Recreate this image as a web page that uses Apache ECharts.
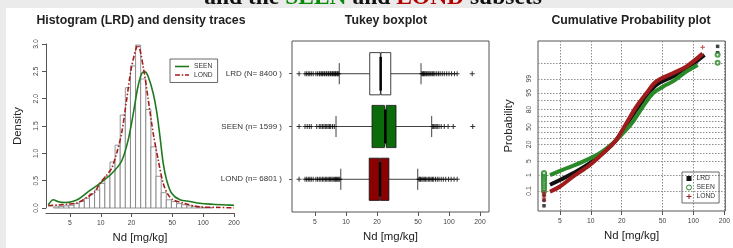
<!DOCTYPE html>
<html>
<head>
<meta charset="utf-8">
<script src="https://cdn.jsdelivr.net/npm/echarts@6/dist/echarts.min.js"></script>
<style>
html, body { margin: 0; padding: 0; background: #ebebeb; }
#main { width: 733px; height: 248px; }
</style>
</head>
<body>
<div id="main"></div>
<script>
// x axis ticks used by all three panels (Nd, mg/kg, log scale)
var ndTicks = [5, 10, 20, 50, 100, 200];

// LRD histogram, bins in log10(Nd)
var histStartLog10 = 0.54;
var histBinLog10 = 0.05;
var histDensity = [0.02, 0.03, 0.04, 0.05, 0.08, 0.12, 0.18, 0.26, 0.33, 0.45, 0.58, 0.84, 1.15, 1.70, 2.20,
    2.60, 2.98, 2.36, 1.80, 1.12, 0.58, 0.28, 0.15, 0.12, 0.08, 0.06, 0.04, 0.03, 0.02, 0.01, 0.01];

// density traces [Nd, density]
var seenDensity = [[3.07, 0.055], [3.44, 0.15], [3.85, 0.115], [4.47, 0.10], [5.2, 0.115], [6.03, 0.16], [7.55, 0.30],
    [9.81, 0.45], [12.8, 0.63], [16.0, 0.86], [18.5, 1.24], [20.8, 1.73], [22.9, 2.19], [25.1, 2.46], [27.0, 2.49],
    [29.1, 2.40], [32.5, 2.10], [35.2, 1.76], [37.9, 1.30], [40.7, 0.82], [44.0, 0.51], [49.2, 0.27], [59.3, 0.15],
    [74.3, 0.12], [92.9, 0.086], [124, 0.068], [169, 0.055], [200, 0.05]];
var londDensity = [[3.07, 0.04], [3.85, 0.055], [4.81, 0.07], [6.03, 0.10], [7.55, 0.21], [8.78, 0.30], [9.81, 0.45],
    [11.4, 0.60], [12.8, 0.73], [14.3, 1.0], [16.0, 1.37], [17.9, 1.98], [20.0, 2.58], [23.1, 2.98], [26.0, 2.58],
    [29.1, 1.98], [32.5, 1.37], [36.4, 0.88], [40.7, 0.45], [45.6, 0.24], [51.0, 0.15], [63.8, 0.09], [92.9, 0.02],
    [146, 0.01], [200, 0]];

// Tukey boxplot, bottom to top
var boxGroups = ['LOND (n= 6801 )', 'SEEN (n= 1599 )', 'LRD (N= 8400 )'];
var boxN = [6801, 1599, 8400];
// lower whisker, Q1, median, Q3, upper whisker
var boxStats = [
    [8.9, 16.8, 21.4, 26.1, 49.7],
    [8.0, 17.9, 24.1, 30.6, 67.9],
    [8.6, 17.0, 21.7, 27.2, 53.5]
];
var boxOutliers = [
    [3.5, 4.0, 4.15, 4.3, 4.45, 4.6, 4.8, 5.1, 5.3, 5.5, 5.7, 5.9, 6.1, 6.3, 6.5, 6.7, 6.9, 7.1, 7.3, 7.5, 7.7, 7.9,
        8.1, 8.3, 8.5, 8.7, 51, 52, 53, 54.5, 56, 57.5, 59, 61, 63, 65, 67, 69, 71, 74, 77, 80, 84, 88, 93, 99, 105, 112, 120],
    [3.5, 4.0, 4.2, 4.4, 4.6, 5.2, 5.5, 5.7, 5.9, 6.1, 6.3, 6.5, 6.7, 6.9, 7.1, 7.4, 7.7,
        69.5, 71, 73, 75, 77, 80, 84, 90, 98, 110, 170],
    [3.5, 4.0, 4.15, 4.3, 4.45, 4.6, 4.8, 5.1, 5.3, 5.5, 5.6, 5.8, 5.9, 6.1, 6.2, 6.4, 6.5, 6.7, 6.8, 7.0, 7.1, 7.3,
        7.4, 7.6, 7.7, 7.9, 8.0, 8.2, 8.3, 8.5, 54.5, 55.5, 56.5, 57.5, 58.5, 60, 61, 62.5, 64, 65.5, 67, 69, 71, 73,
        76, 79, 82, 86, 90, 95, 100, 106, 113, 120, 168]
];

// cumulative probability plot
var probGrid = [0.1, 1, 5, 10, 20, 30, 40, 50, 60, 70, 80, 90, 95, 99, 99.9];
var probLabels = [0.1, 1, 5, 20, 50, 80, 95, 99];
var lrdCdf = [[4.0, 0.26], [5.0, 0.52], [6.7, 1.25], [9.8, 4.0], [14.2, 13.3], [17.7, 26.5], [22.2, 53.9], [27.8, 79.4],
    [34.8, 92.8], [43.5, 97.9], [63, 99.25], [78.7, 99.62], [106, 99.92], [128, 99.975]];
var seenCdf = [[4.0, 1.0], [5.8, 2.3], [8.4, 4.7], [12.2, 10.2], [16.4, 21.5], [20.6, 38], [25.7, 60], [32.2, 83.7],
    [40.3, 94.8], [50.4, 97.4], [63, 98.6], [85, 99.62], [110, 99.86]];
var londCdf = [[4.0, 0.088], [5.0, 0.2], [6.7, 0.82], [9.8, 3.3], [14.2, 13.3], [17.7, 26.5], [22.2, 57.1], [27.8, 83.7],
    [34.8, 94.8], [43.5, 98.6], [63, 99.52], [85, 99.82], [123, 99.98]];
// points at the detection limit and the top tail [Nd, %]
var lrdEnds = [[3.5, 0.007], [3.5, 0.02], [3.5, 0.05], [3.5, 0.1], [3.5, 0.2], [172, 99.983], [172, 99.995]];
var seenEnds = [[3.5, 0.1], [3.5, 0.15], [3.5, 0.22], [3.5, 0.3], [3.5, 0.4], [3.5, 0.55], [3.5, 0.7], [3.5, 0.9],
    [3.5, 1.1], [3.5, 1.3], [172, 99.905], [172, 99.975]];
var londEnds = [[3.5, 0.02], [3.5, 0.03], [3.5, 0.045], [3.5, 0.06], [3.5, 0.08], [123, 99.994]];

var lg = Math.log10;
var font = '"Liberation Sans", Arial, sans-serif';
var plus = 'path://M2,0H3V2H5V3H3V5H2V3H0V2H2Z';
var solidIcon = 'path://M0,0H14V1.6H0Z';
var dashDotIcon = 'path://M0,0H5V1.6H0ZM6.7,0H8.3V1.6H6.7ZM10,0H14V1.6H10Z';

// inverse of the normal cdf (Acklam)
function qnorm(p) {
    var a = [-39.69683028665376, 220.9460984245205, -275.9285104469687, 138.3577518672690, -30.66479806614716, 2.506628277459239];
    var b = [-54.47609879822406, 161.5858368580409, -155.6989798598866, 66.80131188771972, -13.28068155288572];
    var c = [-0.007784894002430293, -0.3223964580411365, -2.400758277161838, -2.549732539343734, 4.374664141464968, 2.938163982698783];
    var d = [0.007784695709041462, 0.3224671290700398, 2.445134137142996, 3.754408661907416];
    var q, r;
    if (p < 0.02425) {
        q = Math.sqrt(-2 * Math.log(p));
        return (((((c[0] * q + c[1]) * q + c[2]) * q + c[3]) * q + c[4]) * q + c[5]) / ((((d[0] * q + d[1]) * q + d[2]) * q + d[3]) * q + 1);
    }
    if (p > 1 - 0.02425) {
        q = Math.sqrt(-2 * Math.log(1 - p));
        return -(((((c[0] * q + c[1]) * q + c[2]) * q + c[3]) * q + c[4]) * q + c[5]) / ((((d[0] * q + d[1]) * q + d[2]) * q + d[3]) * q + 1);
    }
    q = p - 0.5;
    r = q * q;
    return (((((a[0] * r + a[1]) * r + a[2]) * r + a[3]) * r + a[4]) * r + a[5]) * q / (((((b[0] * r + b[1]) * r + b[2]) * r + b[3]) * r + b[4]) * r + 1);
}

function toLog(list) { return list.map(function (d) { return [lg(d[0]), d[1]]; }); }
function toProb(list) { return list.map(function (d) { return [lg(d[0]), qnorm(d[1] / 100)]; }); }
function ndLabel(v) { return String(Math.round(Math.pow(10, v))); }

var histData = histDensity.map(function (d, i) {
    return [histStartLog10 + i * histBinLog10, histStartLog10 + (i + 1) * histBinLog10, d];
});
var boxData = boxStats.map(function (s, i) {
    var notch = 1.58 * (lg(s[3]) - lg(s[1])) / Math.sqrt(boxN[i]);
    return [i + 1, lg(s[0]), lg(s[1]), lg(s[2]), lg(s[3]), lg(s[4]), notch];
});
var outlierData = [];
boxOutliers.forEach(function (list, i) {
    list.forEach(function (v) { outlierData.push([lg(v), i + 1]); });
});
var boxColors = ['#8b0000', '#0b6b0b', '#ffffff'];

var ndTickLog = ndTicks.map(lg);
var tickLabel = { fontSize: 6.8, color: '#444', fontFamily: font };
var nameStyle = { fontSize: 11.4, color: '#222', fontFamily: font };
var gridLine = { color: '#8c8c8c', type: [1.5, 1.5], width: 1 };

function ndAxis(idx, min, max, offset) {
    return {
        type: 'value', gridIndex: idx, min: min, max: max, offset: offset || 0,
        name: 'Nd [mg/kg]', nameLocation: 'middle', nameGap: 19, nameTextStyle: nameStyle,
        axisLine: { show: idx === 0, onZero: false, lineStyle: { color: '#555', width: 1 } },
        axisTick: { show: true, customValues: ndTickLog, length: 4, lineStyle: { color: '#555' } },
        axisLabel: Object.assign({ customValues: ndTickLog, formatter: ndLabel, margin: 7 }, tickLabel),
        splitLine: { show: idx === 2, lineStyle: gridLine }
    };
}

var myChart = echarts.init(document.getElementById('main'));
var option = {
    backgroundColor: '#ebebeb',
    animation: false,
    textStyle: { fontFamily: font },
    graphic: [
        { type: 'rect', z: -10, shape: { x: 6, y: 8, width: 727, height: 240 }, style: { fill: '#ffffff' } },
        { type: 'text', z: -5, style: {
            x: 373, y: 9.5, align: 'center', verticalAlign: 'bottom',
            text: 'and the {g|SEEN} and {r|LOND} subsets',
            font: 'bold 23.5px "Liberation Serif", "Times New Roman", serif', fill: '#111',
            rich: { g: { fill: '#0a8a0a', font: 'bold 23.5px "Liberation Serif", serif' },
                    r: { fill: '#b00000', font: 'bold 23.5px "Liberation Serif", serif' } }
        } },
        { type: 'text', z: 30, style: { x: 141, y: 21, align: 'center', verticalAlign: 'middle',
            text: 'Histogram (LRD) and density traces', font: 'bold 12.3px ' + font, fill: '#222' } },
        { type: 'text', z: 30, style: { x: 386, y: 21, align: 'center', verticalAlign: 'middle',
            text: 'Tukey boxplot', font: 'bold 12.3px ' + font, fill: '#222' } },
        { type: 'text', z: 30, style: { x: 631, y: 21, align: 'center', verticalAlign: 'middle',
            text: 'Cumulative Probability plot', font: 'bold 12.3px ' + font, fill: '#222' } }
    ],
    legend: [
        {
            data: [{ name: 'SEEN', icon: solidIcon }, { name: 'LOND', icon: dashDotIcon }],
            orient: 'vertical', left: 170, top: 59,
            itemWidth: 14, itemHeight: 7, itemGap: 1.5, padding: [4, 5, 4, 5],
            borderColor: '#444', borderWidth: 0.8, selectedMode: false,
            textStyle: { fontSize: 6.7, color: '#333', fontFamily: font }
        },
        {
            data: [
                { name: 'LRD cdf', icon: 'rect' },
                { name: 'SEEN cdf', icon: 'circle', itemStyle: { color: '#fff', borderColor: '#2a8a2a', borderWidth: 1 } },
                { name: 'LOND cdf', icon: plus }
            ],
            formatter: function (n) { return n.split(' ')[0]; },
            orient: 'vertical', left: 682, top: 172,
            itemWidth: 5, itemHeight: 5, itemGap: 2, padding: [3, 4, 3, 4],
            borderColor: '#444', borderWidth: 0.8, selectedMode: false,
            textStyle: { fontSize: 6.7, color: '#333', fontFamily: font }
        }
    ],
    grid: [
        { left: 46, top: 44, width: 188, height: 164 },
        { left: 292, top: 41, width: 197, height: 171, show: true, borderColor: '#555', borderWidth: 1 },
        { left: 538, top: 41, width: 188, height: 170, show: true, borderColor: '#555', borderWidth: 1 }
    ],
    xAxis: [
        ndAxis(0, lg(2.92), lg(200), 5),
        ndAxis(1, 0.4757, 2.3884),
        ndAxis(2, 0.4854, 2.3107)
    ],
    yAxis: [
        {
            type: 'value', gridIndex: 0, min: 0, max: 3, interval: 0.5,
            name: 'Density', nameLocation: 'middle', nameGap: 23, nameTextStyle: nameStyle,
            axisLine: { show: true, onZero: false, lineStyle: { color: '#555' } },
            axisTick: { show: true, length: 4, lineStyle: { color: '#555' } },
            axisLabel: Object.assign({ rotate: 90, margin: 6, formatter: function (v) { return v.toFixed(1); } }, tickLabel),
            splitLine: { show: false }
        },
        {
            type: 'value', gridIndex: 1, min: 0.38, max: 3.62,
            axisLine: { show: false, onZero: false },
            axisTick: { show: true, customValues: [1, 2, 3], length: 3, lineStyle: { color: '#555' } },
            axisLabel: { customValues: [1, 2, 3], margin: 10, fontSize: 8, color: '#333', fontFamily: font,
                formatter: function (v) { return boxGroups[Math.round(v) - 1]; } },
            splitLine: { show: false }
        },
        {
            type: 'value', gridIndex: 2, min: -4.06, max: 4.15,
            name: 'Probability', nameLocation: 'middle', nameGap: 24, nameTextStyle: nameStyle,
            axisLine: { show: false, onZero: false },
            axisTick: { show: false, customValues: probGrid.map(function (p) { return qnorm(p / 100); }) },
            axisLabel: Object.assign({
                rotate: 90, margin: 5,
                customValues: probLabels.map(function (p) { return qnorm(p / 100); }),
                formatter: function (v) {
                    for (var i = 0; i < probLabels.length; i++) {
                        if (Math.abs(qnorm(probLabels[i] / 100) - v) < 1e-6) return String(probLabels[i]);
                    }
                    return '';
                }
            }, tickLabel),
            splitLine: { show: true, lineStyle: gridLine }
        }
    ],
    series: [
        {
            type: 'custom', name: 'hist', xAxisIndex: 0, yAxisIndex: 0, data: histData,
            encode: { x: [0, 1], y: 2 },
            renderItem: function (params, api) {
                var p0 = api.coord([api.value(0), 0]);
                var p1 = api.coord([api.value(1), api.value(2)]);
                return { type: 'rect', shape: { x: p0[0], y: p1[1], width: p1[0] - p0[0], height: p0[1] - p1[1] },
                    style: { fill: '#fff', stroke: '#7a7a7a', lineWidth: 0.8 } };
            }
        },
        {
            type: 'line', name: 'SEEN', xAxisIndex: 0, yAxisIndex: 0, data: toLog(seenDensity),
            smooth: 0.3, symbol: 'none', color: '#1f7a1f',
            lineStyle: { width: 1.6, color: '#1f7a1f' }
        },
        {
            type: 'line', name: 'LOND', xAxisIndex: 0, yAxisIndex: 0, data: toLog(londDensity),
            smooth: 0.3, symbol: 'none', color: '#a31c1c',
            lineStyle: { width: 1.6, color: '#a31c1c', type: [5, 2, 1.5, 2] }
        },
        {
            type: 'custom', name: 'box', xAxisIndex: 1, yAxisIndex: 1, data: boxData,
            encode: { x: [1, 2, 3, 4, 5], y: 0 },
            renderItem: function (params, api) {
                var y = api.value(0), lw = api.value(1), q1 = api.value(2), md = api.value(3),
                    q3 = api.value(4), uw = api.value(5), nt = api.value(6);
                var h = 0.4, s = 0.2;
                function c(x, yy) { return api.coord([x, yy]); }
                var line = { stroke: '#111', lineWidth: 0.8 };
                var pts = [c(q1, y + h), c(md - nt, y + h), c(md, y + h / 2), c(md + nt, y + h), c(q3, y + h),
                    c(q3, y - h), c(md + nt, y - h), c(md, y - h / 2), c(md - nt, y - h), c(q1, y - h)];
                var a = c(md, y + h * 0.8), b = c(md, y - h * 0.8);
                return {
                    type: 'group', children: [
                        { type: 'line', shape: { x1: c(lw, y)[0], y1: c(lw, y)[1], x2: c(q1, y)[0], y2: c(q1, y)[1] }, style: line },
                        { type: 'line', shape: { x1: c(q3, y)[0], y1: c(q3, y)[1], x2: c(uw, y)[0], y2: c(uw, y)[1] }, style: line },
                        { type: 'line', shape: { x1: c(lw, y + s)[0], y1: c(lw, y + s)[1], x2: c(lw, y - s)[0], y2: c(lw, y - s)[1] }, style: line },
                        { type: 'line', shape: { x1: c(uw, y + s)[0], y1: c(uw, y + s)[1], x2: c(uw, y - s)[0], y2: c(uw, y - s)[1] }, style: line },
                        { type: 'polygon', shape: { points: pts }, style: { fill: boxColors[params.dataIndex], stroke: '#111', lineWidth: 0.8 } },
                        { type: 'line', shape: { x1: a[0], y1: a[1], x2: b[0], y2: b[1] }, style: { stroke: '#000', lineWidth: 2.5 } }
                    ]
                };
            }
        },
        {
            type: 'scatter', name: 'outliers', xAxisIndex: 1, yAxisIndex: 1, data: outlierData,
            symbol: plus, symbolSize: 5, itemStyle: { color: '#000' }
        },
        {
            type: 'line', name: 'LRD cdf', xAxisIndex: 2, yAxisIndex: 2, data: toProb(lrdCdf),
            smooth: 0.35, symbol: 'none', color: '#111', lineStyle: { width: 4, color: '#111' }
        },
        {
            type: 'line', name: 'SEEN cdf', xAxisIndex: 2, yAxisIndex: 2, data: toProb(seenCdf),
            smooth: 0.35, symbol: 'none', color: '#2a8a2a', lineStyle: { width: 4, color: '#2a8a2a' }
        },
        {
            type: 'line', name: 'LOND cdf', xAxisIndex: 2, yAxisIndex: 2, data: toProb(londCdf),
            smooth: 0.35, symbol: 'none', color: '#a01c1c', lineStyle: { width: 4, color: '#a01c1c' }
        },
        {
            type: 'scatter', name: 'LRD ends', xAxisIndex: 2, yAxisIndex: 2, data: toProb(lrdEnds),
            symbol: 'rect', symbolSize: 3.5, itemStyle: { color: '#111' }
        },
        {
            type: 'scatter', name: 'SEEN ends', xAxisIndex: 2, yAxisIndex: 2, data: toProb(seenEnds),
            symbol: 'emptyCircle', symbolSize: 4, itemStyle: { color: '#2a8a2a', borderWidth: 1 }
        },
        {
            type: 'scatter', name: 'LOND ends', xAxisIndex: 2, yAxisIndex: 2, data: toProb(londEnds),
            symbol: plus, symbolSize: 4.5, itemStyle: { color: '#a01c1c' }
        }
    ]
};
myChart.setOption(option);
</script>
</body>
</html>
